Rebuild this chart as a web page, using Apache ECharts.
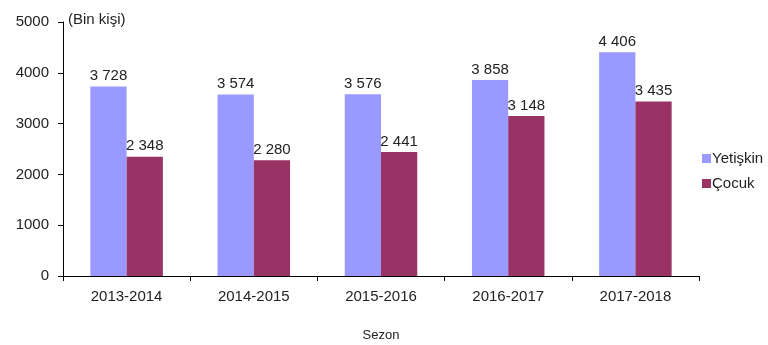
<!DOCTYPE html>
<html><head><meta charset="utf-8">
<script src="https://cdn.jsdelivr.net/npm/echarts@6/dist/echarts.min.js"></script>
<style>html,body{margin:0;padding:0;background:#fff}#c{width:768px;height:345px}</style>
</head><body><div id="c"></div>
<script>
const categories = ['2013-2014','2014-2015','2015-2016','2016-2017','2017-2018'];
const adults = [3728, 3574, 3576, 3858, 4406];
const children = [2348, 2280, 2441, 3148, 3435];
const yTicks = [0, 1000, 2000, 3000, 4000, 5000];
const fmt = v => String(v).replace(/\B(?=(\d{3})+(?!\d))/g, ' ');
const font = 'Liberation Sans, Arial, sans-serif';
const chart = echarts.init(document.getElementById('c'));
chart.setOption({
  animation: false,
  textStyle: {fontFamily: font},
  grid: {left: 63, right: 69, top: 22, bottom: 69, containLabel: false, outerBoundsMode: 'none'},
  legend: {
    orient: 'vertical', left: 697, top: 146, itemWidth: 9, itemHeight: 9, itemGap: 10,
    icon: 'rect', itemStyle: {borderWidth: 0},
    textStyle: {fontFamily: font, fontSize: 15, color: '#222', padding: [0,0,0,-4]},
    data: ['Yetişkin', 'Çocuk']
  },
  xAxis: {
    type: 'category', data: categories, name: 'Sezon', nameLocation: 'middle', nameGap: 53,
    nameTextStyle: {fontFamily: font, fontSize: 13, color: '#222'},
    axisLine: {lineStyle: {color: '#000', width: 1}},
    axisTick: {show: true, alignWithLabel: false, length: 5, lineStyle: {color: '#000'}},
    axisLabel: {fontFamily: font, fontSize: 15, color: '#222', margin: 13}
  },
  yAxis: {
    type: 'value', min: yTicks[0], max: yTicks[yTicks.length-1], interval: 1000,
    name: '(Bin kişi)', nameLocation: 'end', nameGap: -5,
    nameTextStyle: {fontFamily: font, fontSize: 15, color: '#222', align: 'left', padding: [0,0,0,5]},
    axisLine: {show: true, lineStyle: {color: '#000', width: 1}},
    axisTick: {show: true, length: 5, lineStyle: {color: '#000'}},
    splitLine: {show: false},
    axisLabel: {fontFamily: font, fontSize: 15, color: '#222', margin: 14, formatter: v => String(v)}
  },
  series: [
    {name: 'Yetişkin', type: 'bar', data: adults, barGap: '0%', barCategoryGap: '43%',
     itemStyle: {color: '#9999FF'},
     label: {show: true, position: 'top', formatter: p => fmt(p.value), fontFamily: font, fontSize: 15, color: '#222', distance: 3}},
    {name: 'Çocuk', type: 'bar', data: children,
     itemStyle: {color: '#993366'},
     label: {show: true, position: 'top', formatter: p => fmt(p.value), fontFamily: font, fontSize: 15, color: '#222', distance: 3}}
  ]
});
</script></body></html>
